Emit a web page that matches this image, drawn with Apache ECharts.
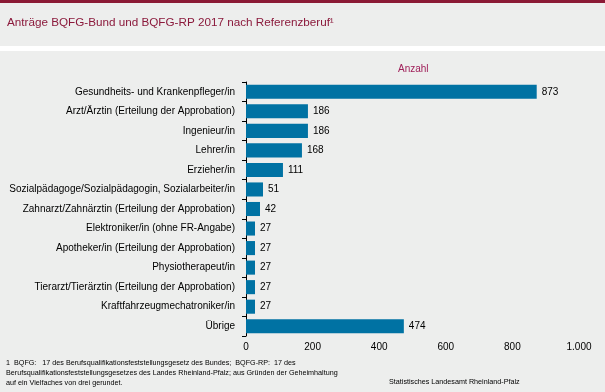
<!DOCTYPE html>
<html><head><meta charset="utf-8">
<script src="https://cdn.jsdelivr.net/npm/echarts@6/dist/echarts.min.js"></script>
<style>html,body{margin:0;padding:0;background:#edeeed}#c{width:605px;height:392px}</style>
</head><body><div id="c"></div>
<script>
const categories = ["Gesundheits- und Krankenpfleger/in","Arzt/Ärztin (Erteilung der Approbation)","Ingenieur/in","Lehrer/in","Erzieher/in","Sozialpädagoge/Sozialpädagogin, Sozialarbeiter/in","Zahnarzt/Zahnärztin (Erteilung der Approbation)","Elektroniker/in (ohne FR-Angabe)","Apotheker/in (Erteilung der Approbation)","Physiotherapeut/in","Tierarzt/Tierärztin (Erteilung der Approbation)","Kraftfahrzeugmechatroniker/in","Übrige"];
const values = [873,186,186,168,111,51,42,27,27,27,27,27,474];
const xTicks = [0,200,400,600,800,1000];
const fmt = v => v >= 1000 ? (Math.floor(v/1000) + "." + String(v%1000).padStart(3,"0")) : String(v);
const chart = echarts.init(document.getElementById('c'), null, {renderer:'canvas'});
const F = 'Liberation Sans, Arial, sans-serif';
chart.setOption({
  backgroundColor:'#edeeed',
  animation:false,
  title:{text:'Anträge BQFG-Bund und BQFG-RP 2017 nach Referenzberuf¹',left:7,top:17,padding:0,textStyle:{fontFamily:F,fontSize:11.7,fontWeight:'normal',color:'#8b1a3c'}},
  graphic:[
    {type:'rect',shape:{x:0,y:0,width:605,height:3},style:{fill:'#8b1a35'}},
    {type:'rect',shape:{x:0,y:46,width:605,height:5},style:{fill:'#ffffff'}},
    {type:'text',left:398,top:64,style:{text:'Anzahl',font:'10px '+F,fill:'#a0205a'}},
    {type:'text',left:6,top:358,style:{text:'1  BQFG:   17 des Berufsqualifikationsfeststellungsgesetz des Bundes;  BQFG-RP:  17 des\nBerufsqualifikationsfeststellungsgesetzes des Landes Rheinland-Pfalz; aus Gründen der Geheimhaltung\nauf ein Vielfaches von drei gerundet.',font:'7.2px '+F,fill:'#000',lineHeight:10}},
    {type:'text',left:389,top:379,style:{text:'Statistisches Landesamt Rheinland-Pfalz',font:'7.2px '+F,fill:'#000'}}
  ],
  grid:{left:246,right:26,top:82,bottom:56,containLabel:false},
  xAxis:{type:'value',min:0,max:1000,interval:200,
    axisLine:{show:false},axisTick:{show:false},splitLine:{show:false},
    axisLabel:{fontFamily:F,fontSize:10,color:'#000',margin:6,formatter:v=>fmt(v)}},
  yAxis:{type:'category',data:categories,inverse:true,
    axisLine:{show:true,lineStyle:{color:'#000',width:1}},
    axisTick:{show:true,length:4,lineStyle:{color:'#000'}},
    axisLabel:{fontFamily:F,fontSize:10,color:'#000',margin:11}},
  series:[{type:'bar',data:values,barCategoryGap:'28%',itemStyle:{color:'#0072a3'},
    label:{show:true,position:'right',distance:5,fontFamily:F,fontSize:10,color:'#000'}}]
});
</script></body></html>
